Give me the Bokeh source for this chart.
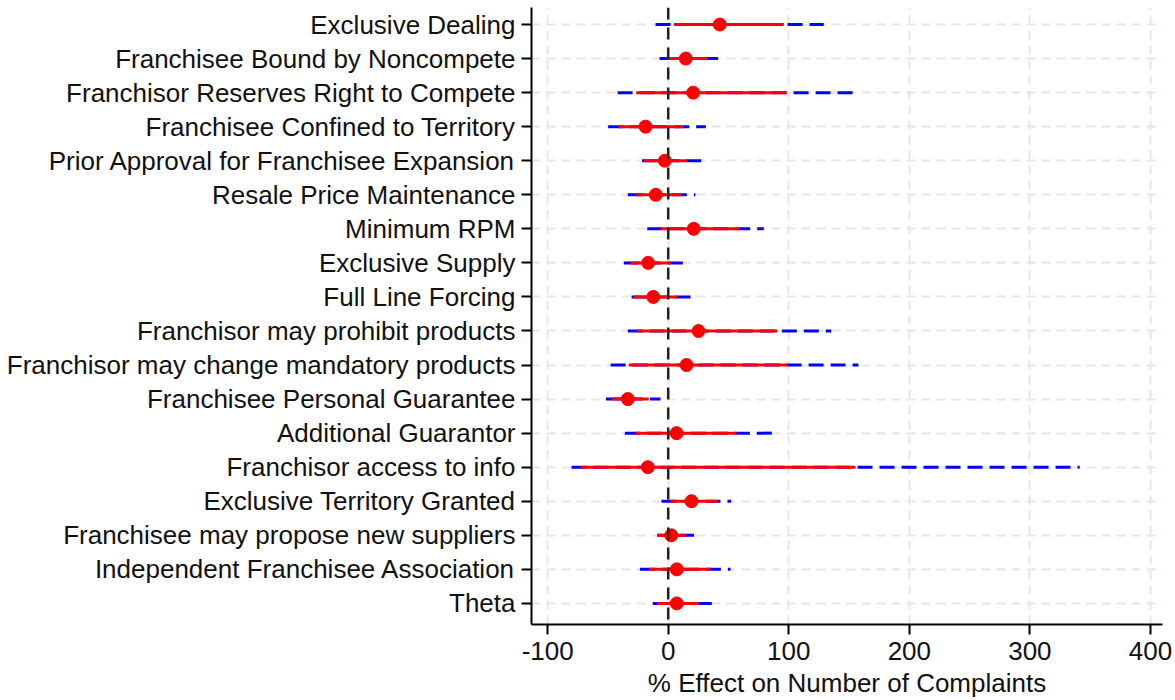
from bokeh.plotting import figure
from bokeh.models import ColumnDataSource, FixedTicker, Span
from bokeh.embed import file_html
from bokeh.resources import INLINE

# Contract clauses, top to bottom
labels = [
    "Exclusive Dealing",
    "Franchisee Bound by Noncompete",
    "Franchisor Reserves Right to Compete",
    "Franchisee Confined to Territory",
    "Prior Approval for Franchisee Expansion",
    "Resale Price Maintenance",
    "Minimum RPM",
    "Exclusive Supply",
    "Full Line Forcing",
    "Franchisor may prohibit products",
    "Franchisor may change mandatory products",
    "Franchisee Personal Guarantee",
    "Additional Guarantor",
    "Franchisor access to info",
    "Exclusive Territory Granted",
    "Franchisee may propose new suppliers",
    "Independent Franchisee Association",
    "Theta",
]

# Point estimates (% effect on number of complaints)
estimate = [42.8, 14.6, 20.7, -18.8, -2.8, -10.3, 21.2, -16.6, -12.4,
            25.1, 15.2, -33.5, 6.9, -16.9, 19.3, 2.5, 7.1, 7.1]

# Inner interval (solid red)
ci_low = [4.7, -0.8, -26.5, -41.0, -20.2, -26.5, -7.0, -31.3, -28.5,
          -25.7, -32.7, -46.4, -27.1, -72.7, 1.9, -9.2, -16.1, -9.1]
ci_high = [95.9, 32.3, 98.1, 12.4, 15.8, 11.0, 59.1, 1.9, 7.5,
           90.4, 98.7, -16.1, 56.6, 155.3, 40.6, 14.9, 35.1, 25.4]

# Outer interval (dashed blue)
wide_low = [-10.5, -7.2, -42.0, -49.8, -21.6, -33.5, -17.4, -36.8, -30.4,
            -33.5, -47.8, -51.7, -36.0, -80.2, -5.6, -9.2, -23.5, -12.8]
wide_high = [129.0, 41.4, 153.6, 31.2, 27.6, 22.6, 79.3, 12.9, 19.1,
             135.2, 157.8, -6.4, 88.1, 341.3, 52.2, 21.8, 51.7, 36.5]

x_ticks = [-100, 0, 100, 200, 300, 400]
x_tick_text = ["-100", "0", "100", "200", "300", "400"]

n = len(labels)
rows = [n - i for i in range(n)]

src = ColumnDataSource(dict(
    y=rows, est=estimate, lo=ci_low, hi=ci_high, wlo=wide_low, whi=wide_high,
))

FONT = "Liberation Sans"
FS = "26px"

p = figure(
    width=1175, height=700,
    x_range=(-113.4, 410), y_range=(0.38, 18.5),
    output_backend="svg", toolbar_location=None,
    min_border_left=531, min_border_right=13,
    min_border_top=7, min_border_bottom=75,
)
p.outline_line_color = None
p.background_fill_color = "white"
p.border_fill_color = "white"

# ticks and grid
p.xaxis.ticker = FixedTicker(ticks=x_ticks)
p.xaxis.major_label_overrides = {t: s for t, s in zip(x_ticks, x_tick_text)}
p.yaxis.ticker = FixedTicker(ticks=rows)
p.yaxis.major_label_overrides = {r: lab for r, lab in zip(rows, labels)}
for g in (p.xgrid, p.ygrid):
    g.grid_line_color = "#e6e6e6"
    g.grid_line_width = 2
    g.grid_line_dash = "9 6"

# axes
for ax in (p.xaxis, p.yaxis):
    ax.axis_line_color = "black"
    ax.axis_line_width = 2
    ax.major_tick_line_color = "black"
    ax.major_tick_line_width = 2
    ax.major_tick_out = 10
    ax.major_tick_in = 0
    ax.minor_tick_line_color = None
    ax.major_label_text_font = FONT
    ax.major_label_text_font_size = FS
    ax.major_label_text_color = "#111111"
p.yaxis.major_label_standoff = 6
p.xaxis.major_label_standoff = 7
p.xaxis.axis_label = "% Effect on Number of Complaints"
p.xaxis.axis_label_text_font = FONT
p.xaxis.axis_label_text_font_size = FS
p.xaxis.axis_label_text_font_style = "normal"
p.xaxis.axis_label_text_color = "#111111"
p.xaxis.axis_label_standoff = 5

# reference line at zero
p.add_layout(Span(location=0, dimension="height", line_color="#222222",
                  line_width=2.5, line_dash="12 8"))

# intervals and estimates
p.segment(x0="wlo", x1="whi", y0="y", y1="y", source=src,
          line_color="blue", line_width=3, line_dash="15 7")
p.segment(x0="lo", x1="hi", y0="y", y1="y", source=src,
          line_color="red", line_width=3)
p.scatter(x="est", y="y", source=src, size=13,
          fill_color="red", line_color="red")

open("out.html", "w").write(file_html(p, INLINE))
